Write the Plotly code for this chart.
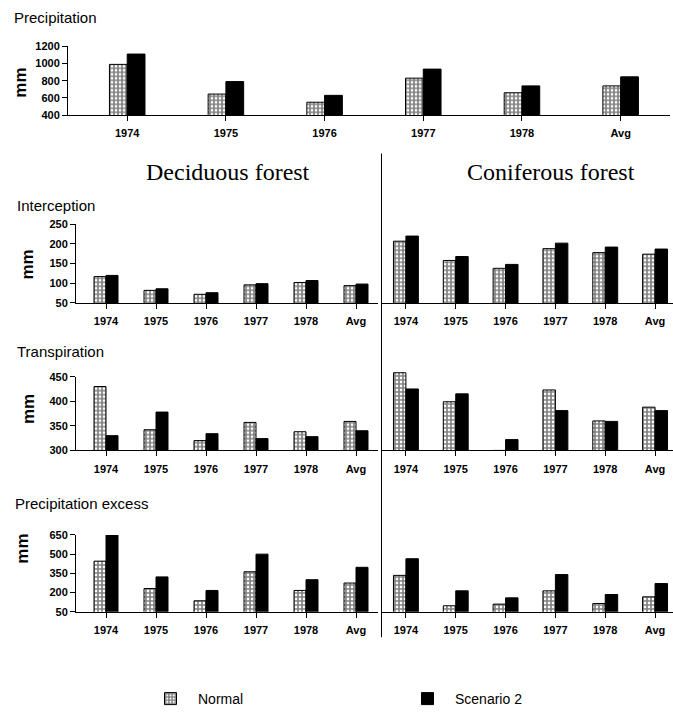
import plotly.graph_objects as go

# ---- data (mm) ----
years = ["1974", "1975", "1976", "1977", "1978", "Avg"]

precip_normal = [990, 645, 550, 830, 660, 740]
precip_s2 = [1110, 790, 630, 935, 740, 845]

intercept_dec_normal = [117, 82, 72, 96, 102, 94]
intercept_dec_s2 = [120, 86, 76, 99, 107, 98]
intercept_con_normal = [207, 158, 138, 188, 178, 174]
intercept_con_s2 = [220, 168, 148, 202, 192, 187]

transp_dec_normal = [430, 342, 320, 357, 338, 359]
transp_dec_s2 = [330, 378, 334, 324, 328, 340]
transp_con_normal = [458, 399, 300, 423, 360, 388]
transp_con_s2 = [425, 415, 322, 381, 359, 381]

excess_dec_normal = [445, 231, 135, 362, 216, 274]
excess_dec_s2 = [650, 322, 216, 500, 300, 397]
excess_con_normal = [334, 96, 109, 213, 114, 166]
excess_con_s2 = [464, 213, 158, 340, 184, 270]

precip_ticks = [400, 600, 800, 1000, 1200]
intercept_ticks = [50, 100, 150, 200, 250]
transp_ticks = [300, 350, 400, 450]
excess_ticks = [50, 200, 350, 500, 650]

# ---- layout helpers (pixel -> paper) ----
W, H = 673, 715
def fx(p):
    return p / W
def fy(p):
    return 1 - p / H

SANS = "Liberation Sans, Arial, sans-serif"
SERIF = "Liberation Serif, Times New Roman, serif"
tick_font = dict(family=SANS, size=11, color="black", weight=700)

# panel: (normal, scenario 2, x px span, (px of top tick, px of bottom tick), ticks,
#         show y axis, x range, bar width, headroom above top tick in data units)
panels = [
    (precip_normal, precip_s2, (68, 670), (41, 111), precip_ticks, True, [-0.6, 5.5], 0.18, 0),
    (intercept_dec_normal, intercept_dec_s2, (76, 378), (222, 302), intercept_ticks, True, [-0.6, 5.44], 0.24, 0),
    (intercept_con_normal, intercept_con_s2, (381, 673), (222, 302), intercept_ticks, False, [-0.5, 5.36], 0.25, 0),
    (transp_dec_normal, transp_dec_s2, (76, 378), (377, 452), transp_ticks, True, [-0.6, 5.44], 0.24, 0),
    (transp_con_normal, transp_con_s2, (381, 673), (377, 452), transp_ticks, False, [-0.5, 5.36], 0.25, 30),
    (excess_dec_normal, excess_dec_s2, (76, 378), (538, 616), excess_ticks, True, [-0.6, 5.44], 0.24, 0),
    (excess_con_normal, excess_con_s2, (381, 673), (538, 616), excess_ticks, False, [-0.5, 5.36], 0.25, 0),
]

fig = go.Figure()
layout_axes = {}

for i, (normal, s2, xs, ys, ticks, showy, xr, bw, head) in enumerate(panels):
    n = i + 1
    xa = "x" if n == 1 else f"x{n}"
    ya = "y" if n == 1 else f"y{n}"
    fig.add_trace(go.Bar(
        x=years, y=normal, xaxis=xa, yaxis=ya, name="Normal",
        legend="legend", showlegend=(n == 1),
        width=bw, offset=-bw,
        marker=dict(color="white", line=dict(color="black", width=1),
                    pattern=dict(shape="+", fgcolor="black", bgcolor="white",
                                 size=4, solidity=0.65)),
    ))
    fig.add_trace(go.Bar(
        x=years, y=s2, xaxis=xa, yaxis=ya, name="Scenario 2",
        legend="legend2", showlegend=(n == 1),
        width=bw, offset=0,
        marker=dict(color="black", line=dict(color="black", width=1)),
    ))
    key_x = "xaxis" if n == 1 else f"xaxis{n}"
    key_y = "yaxis" if n == 1 else f"yaxis{n}"
    layout_axes[key_x] = dict(
        domain=[fx(xs[0]), fx(xs[1])], anchor=ya, type="category",
        range=xr, showline=True, linecolor="black", linewidth=1,
        ticks="outside", ticklen=5, tickcolor="black", tickwidth=1,
        showgrid=False, zeroline=False, tickfont=tick_font,
        ticklabelstandoff=3, fixedrange=True,
    )
    # keep the same scale when extra headroom is added above the top tick
    px_per_unit = (ys[1] - ys[0]) / (ticks[-1] - ticks[0])
    top_px = ys[0] - head * px_per_unit
    layout_axes[key_y] = dict(
        domain=[fy(ys[1]), fy(top_px)], anchor=xa,
        range=[ticks[0], ticks[-1] + head], tickvals=ticks,
        showline=showy, visible=showy, linecolor="black", linewidth=1,
        ticks="outside", ticklen=5, tickcolor="black", tickwidth=1,
        showgrid=False, zeroline=False, tickfont=tick_font, fixedrange=True,
    )

annotations = []
# panel titles
for text, px_x, px_y in [
    ("Precipitation", 12, 12),
    ("Interception", 15, 203),
    ("Transpiration", 15, 351),
    ("Precipitation excess", 13, 506),
]:
    annotations.append(dict(text=text, x=fx(px_x), y=fy(px_y), xref="paper", yref="paper",
                            xanchor="left", yanchor="middle", showarrow=False,
                            font=dict(family=SANS, size=15, color="black")))

# "mm" axis titles
for px_x, px_y in [(21, 78), (28, 263), (28, 410), (23, 552)]:
    annotations.append(dict(text="mm", x=fx(px_x), y=fy(px_y), xref="paper", yref="paper",
                            xanchor="center", yanchor="middle", textangle=-90, showarrow=False,
                            font=dict(family=SANS, size=17, color="black", weight=700)))

# forest headings
annotations.append(dict(text="Deciduous forest", x=fx(228), y=fy(169), xref="paper", yref="paper",
                        xanchor="center", yanchor="middle", showarrow=False,
                        font=dict(family=SERIF, size=24, color="black")))
annotations.append(dict(text="Coniferous forest", x=fx(551), y=fy(169), xref="paper", yref="paper",
                        xanchor="center", yanchor="middle", showarrow=False,
                        font=dict(family=SERIF, size=24, color="black")))

# divider between the two forest types
shapes = [dict(type="line", xref="paper", yref="paper",
               x0=fx(381.5), x1=fx(381.5), y0=fy(150), y1=fy(642),
               line=dict(color="black", width=1))]

legend_common = dict(orientation="h", yanchor="middle", xanchor="left",
                     itemwidth=45,
                     font=dict(family=SANS, size=14, color="black"),
                     bgcolor="rgba(0,0,0,0)")

fig.update_layout(
    width=W, height=H,
    margin=dict(l=0, r=0, t=0, b=0),
    paper_bgcolor="white", plot_bgcolor="white",
    showlegend=True,
    legend=dict(x=fx(143), y=fy(705), **legend_common),
    legend2=dict(x=fx(400), y=fy(705), **legend_common),
    annotations=annotations,
    shapes=shapes,
    **layout_axes,
)

fig.write_html("out.html")
